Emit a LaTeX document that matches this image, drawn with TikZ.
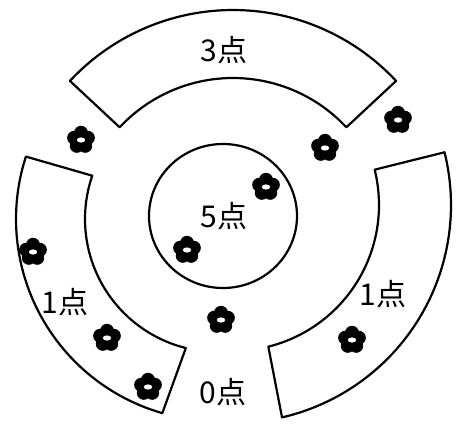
\documentclass[tikz,border=0pt]{standalone}
\usepackage{fontspec}
\newfontfamily\jp{Noto Sans CJK JP}
\begin{document}
\begin{tikzpicture}[x=1pt,y=-1pt, line width=2.2pt, line join=round, line cap=round,
  lbl/.style={font=\jp\fontsize{30}{32}\selectfont, anchor=base, inner sep=0pt},
  flower/.pic={
    \foreach \a in {-90,-18,54,126,198} \fill (\a:7.2) circle[radius=7];
    \fill (0,0) circle[radius=8.5];
    \fill[white] (0,0) ellipse[x radius=4.2, y radius=2.6];
  }]
\useasboundingbox (0,0) rectangle (458,425);
% top sector
\draw plot[domain=223:317, samples=60, variable=\t] ({233+223*cos(\t)},{233+223*sin(\t)})
  -- plot[domain=317:223, samples=60, variable=\t] ({233+155*cos(\t)},{233+155*sin(\t)}) -- cycle;
% left sector
\draw plot[domain=106:198, samples=60, variable=\t] ({218+202*cos(\t)},{219+202*sin(\t)})
  -- plot[domain=199:104, samples=60, variable=\t] ({218+133*cos(\t)},{219+133*sin(\t)}) -- cycle;
% right sector
\draw plot[domain=-14:77, samples=60, variable=\t] ({233+218*cos(\t)},{205+218*sin(\t)})
  -- plot[domain=76:-14, samples=60, variable=\t] ({233+146*cos(\t)},{205+146*sin(\t)}) -- cycle;
% centre
\draw (223,216) ellipse[x radius=74, y radius=72];
% labels
\node[lbl] (t3) at (224,62) {3点};
\node[lbl] (t5) at (224,227) {5点};
\node[lbl] (t1l) at (65,313) {1点};
\node[lbl] (t1r) at (383,305) {1点};
\node[lbl] (t0) at (223,403) {0点};
% flowers
\pic at (81,140) {flower};
\pic at (398,120) {flower};
\pic at (325,148) {flower};
\pic at (266,187) {flower};
\pic at (187,250) {flower};
\pic at (33,252) {flower};
\pic at (107,338) {flower};
\pic at (221,320) {flower};
\pic at (148,387) {flower};
\pic at (352,340) {flower};
\end{tikzpicture}
\end{document}
